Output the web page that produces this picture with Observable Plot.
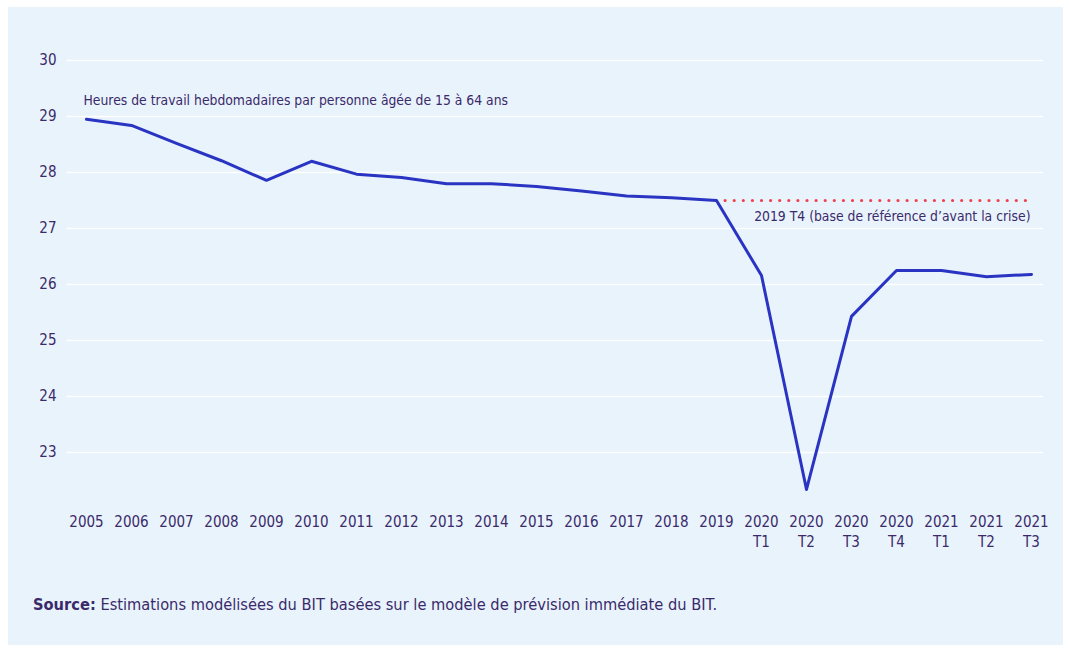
<!DOCTYPE html>
<html><head><meta charset="utf-8">
<script src="https://cdn.jsdelivr.net/npm/d3@7"></script>
<script src="https://cdn.jsdelivr.net/npm/@observablehq/plot@0.6"></script>
<style>
body{margin:0;background:#fff;width:1069px;height:649px;position:relative;overflow:hidden;font-family:"DejaVu Sans Condensed",sans-serif;}
#panel{position:absolute;left:8px;top:7px;width:1055px;height:638px;background:#e9f3fc;}
#chart{position:absolute;left:0;top:0;}
#cap{position:absolute;left:33px;top:595px;font-size:16.3px;color:#3a2a6a;}
</style></head><body>
<div id="panel"></div>
<div id="chart"></div>
<div id="cap"><b>Source:</b> Estimations modélisées du BIT basées sur le modèle de prévision immédiate du BIT.</div>
<script>
const periods = ["2005","2006","2007","2008","2009","2010","2011","2012","2013","2014","2015","2016","2017","2018","2019","2020\nT1","2020\nT2","2020\nT3","2020\nT4","2021\nT1","2021\nT2","2021\nT3"];
const hours = [28.95,28.84,28.52,28.21,27.86,28.2,27.97,27.91,27.8,27.8,27.75,27.67,27.58,27.55,27.5,26.16,22.34,25.43,26.25,26.25,26.14,26.18];
const yTicks = [23,24,25,26,27,28,29,30];
const baseline = 27.5;
const baselineStart = "2019";
const baselineEnd = "2021\nT3";
const seriesLabel = "Heures de travail hebdomadaires par personne âgée de 15 à 64 ans";
const baselineLabel = "2019 T4 (base de référence d’avant la crise)";

const data = periods.map((p,i)=>({p, v:hours[i]}));
const baseRow = [{x1:baselineStart, x2:baselineEnd, y:baseline, label:baselineLabel}];
const font = '"DejaVu Sans Condensed",sans-serif';
const txt = "#3a2a6a";

const chart = Plot.plot({
  width:1069, height:560,
  marginTop:60, marginBottom:52, marginLeft:66, marginRight:26,
  style:{background:"transparent", fontFamily:font, fontSize:"15px", color:txt},
  x:{type:"point", domain:periods, range:[81,1035], padding:0, label:null},
  y:{domain:[22,30], label:null},
  marks:[
    Plot.ruleY(yTicks,{stroke:"#ffffff", strokeWidth:1.5}),
    Plot.axisY({ticks:yTicks, tickSize:0, tickPadding:10, label:null, fill:txt, fontSize:15}),
    Plot.axisX({tickSize:0, tickPadding:5, label:null, fill:txt, fontSize:15, lineHeight:1.3}),
    Plot.ruleY(baseRow,{x1:"x1", x2:"x2", y:"y", stroke:"#f0404e", strokeWidth:3.2, strokeDasharray:"0 9.1", strokeLinecap:"round"}),
    Plot.line(data,{x:"p", y:"v", stroke:"#2a34c2", strokeWidth:3}),
    Plot.text([seriesLabel],{x:()=>periods[0], y:()=>hours[0], dy:-19, dx:-3, textAnchor:"start", fill:txt, fontSize:13.8}),
    Plot.text(baseRow,{x:"x2", y:"y", text:"label", dy:16, dx:-1, textAnchor:"end", fill:txt, fontSize:13.8})
  ]
});
document.getElementById("chart").appendChild(chart);
</script>
</body></html>
